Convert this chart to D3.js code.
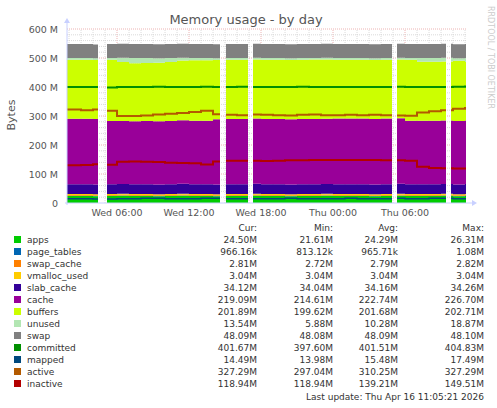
<!DOCTYPE html>
<html><head><meta charset="utf-8">
<script src="https://cdn.jsdelivr.net/npm/d3@7"></script>
<style>body{margin:0;background:#fff}text{font-family:"DejaVu Sans",sans-serif}</style>
</head><body><svg id="drawing_region"></svg>
<script>
// hourly samples Wed 02:00 .. Thu 11:00 (34 values), in MB
const hours = d3.range(34).map(i => new Date(2026, 3, 15, 2 + i));
const apps        = [24,24,23,24,25,24,24,23,24,25,24,24,23,24,24,25,24,24,23,24,24,25,24,24,24,23,24,25,24,24,24,25,23,24.5];
const pageTables  = Array(34).fill(0.97);
const swapCache   = Array(34).fill(2.8);
const vmallocUsed = Array(34).fill(3.04);
const slabCache   = [34,34,34,34,34.1,34.1,34.2,34.1,34.2,34.2,34.1,34.2,34.2,34.2,34.1,34.2,34.2,34.2,34.1,34.2,34.2,34.1,34.2,34.2,34.2,34.1,34.2,34.2,34.1,34.1,34.1,34.1,34.1,34.1];
const cache       = [226,226,226,218,217,217,218,218,218,219,219,219,225,225,225,225,225,225,225,225,225,225,226,226,226,226,226,226,219,219,219,219,219,219];
const buffers     = [203,203,203,211,203,200,200,202,203,206,208,208,204,204,204,204,204,204,204,204,205,204,203,203,203,203,203,203,210,203,203,203,208,202];
const unused      = [6,6,6,6,15,18,17,15,14,10,8,8,6,6,6,6,6,6,6,6,5,6,6,6,6,6,6,6,6,13,13,13,8,13.5];
const swap        = Array(34).fill(48.1);
const committed   = [400,400,400,398,400,400,400,401,400,400,400,401,400,400,401,400,400,400,400,401,400,400,400,400,400,400,400,401,400,400,400,400,401,401.7];
const mapped      = [15,15,14,14,15,15,16,16,15,15,15,16,16,15,15,15,15,15,16,15,15,15,15,16,15,15,15,16,15,15,16,16,15,14.5];
const active      = [322,320,322,318,300,300,302,305,308,310,314,318,306,304,303,305,304,303,302,304,305,303,303,304,303,304,303,302,301,312,316,320,325,327.3];
const inactive    = [130,131,134,132,142,143,142,141,139,138,137,133,143,146,146,146,145,146,147,147,148,148,148,148,148,148,147,147,146,125,121,120,119,118.9];
const gaps = [["04:30","05:10",0],["14:40","15:05",0],["17:00","17:20",0],["05:00","05:20",1],["09:30","09:50",1]];

const names = ["apps","page_tables","swap_cache","vmalloc_used","slab_cache","cache","buffers","unused","swap","committed","mapped","active","inactive"];
const colors = ["#00cc00","#0066b3","#ff8000","#ffcc00","#330099","#990099","#ccff00","#b3e6b3","#808080","#008f00","#00487d","#b35a00","#b30000"];
const curCol = ["24.50M","966.16k","2.81M","3.04M","34.12M","219.09M","201.89M","13.54M","48.09M","401.67M","14.49M","327.29M","118.94M"];
const minCol = ["21.61M","813.12k","2.72M","3.04M","34.04M","214.61M","199.62M","5.88M","48.08M","397.60M","13.98M","297.04M","118.94M"];
const avgCol = ["24.29M","965.71k","2.79M","3.04M","34.16M","222.74M","201.68M","10.28M","48.09M","401.51M","15.48M","310.25M","139.21M"];
const maxCol = ["26.31M","1.08M","2.82M","3.04M","34.26M","226.70M","202.71M","18.87M","48.10M","404.83M","17.49M","327.29M","149.51M"];
const stackSeries = [apps,pageTables,swapCache,vmallocUsed,slabCache,cache,buffers,unused,swap];
const lineSeries = [committed,mapped,active,inactive];

const W = 497, H = 408, m = {left:67, right:31, top:29, bottom:205};
const svg = d3.select('#drawing_region').attr('width', W).attr('height', H);
const start = new Date(2026,3,15,1,50), end = new Date(2026,3,16,11,5);
const x = d3.scaleTime().domain([start,end]).range([m.left, W - m.right]);
const y = d3.scaleLinear().domain([0,600]).range([H - m.bottom, m.top]);

// dense 5-minute steps over hourly samples
const steps = d3.timeMinute.every(5).range(start, end).concat([end]);
const gapRanges = gaps.map(g => {
  const [a,b] = [g[0],g[1]].map(s => s.split(':').map(Number));
  return [new Date(2026,3,15+g[2],a[0],a[1]), new Date(2026,3,15+g[2],b[0],b[1])];
});
const inGap = t => gapRanges.some(g => t >= g[0] && t < g[1]);
const idx = t => Math.max(0, Math.min(33, Math.floor((t - hours[0]) / 3600000)));
const rows = steps.map(t => {
  const r = {t, ok: !inGap(t)};
  stackSeries.forEach((s,k) => r[names[k]] = s[idx(t)]);
  lineSeries.forEach((s,k) => r[names[9+k]] = s[idx(t)]);
  return r;
});
const stacked = d3.stack().keys(names.slice(0,9))(rows);

// grid
const g = svg.append('g');
d3.timeHour.every(1).range(start,end).forEach(t => {
  const major = t.getHours() % 6 === 0;
  g.append('line').attr('x1',x(t)).attr('x2',x(t)).attr('y1',y(0)).attr('y2',y(600))
    .attr('stroke', major ? '#e8a0a0' : '#d0d0d0').attr('stroke-dasharray','1,1').attr('stroke-width',0.8);
});
d3.range(20,601,20).forEach(v => {
  g.append('line').attr('x1',m.left).attr('x2',W-m.right).attr('y1',y(v)).attr('y2',y(v))
    .attr('stroke', v % 100 === 0 ? '#e8a0a0' : '#d0d0d0').attr('stroke-dasharray','1,1').attr('stroke-width',0.8);
});

const area = d3.area().curve(d3.curveStepAfter).defined(d => d.data.ok)
  .x(d => x(d.data.t)).y0(d => y(d[0])).y1(d => y(d[1]));
svg.selectAll('path.a').data(stacked).enter().append('path')
  .attr('d', area).attr('fill', (d,i) => colors[i]);
lineSeries.forEach((s,k) => {
  const key = names[9+k];
  svg.append('path').datum(rows)
    .attr('d', d3.line().curve(d3.curveStepAfter).defined(d => d.ok).x(d => x(d.t)).y(d => y(d[key])))
    .attr('fill','none').attr('stroke', colors[9+k]).attr('stroke-width', k===1 ? 1.5 : 2);
});

// axes
const ax = svg.append('g').attr('font-size', 9.5).attr('fill','#555');
[0,100,200,300,400,500,600].forEach(v => {
  ax.append('text').attr('x', 58).attr('y', y(v)+3.5).attr('text-anchor','end').text(v===0 ? '0' : v + ' M');
});
d3.timeHour.every(6).range(start,end).forEach(t => {
  ax.append('text').attr('x', x(t)).attr('y', 216).attr('text-anchor','middle')
    .text(d3.timeFormat('%a %H:%M')(t));
});
svg.append('line').attr('x1',m.left-2).attr('x2',W-m.right+6).attr('y1',y(0)).attr('y2',y(0)).attr('stroke','#c8d0ff');
svg.append('line').attr('x1',m.left).attr('x2',m.left).attr('y1',y(0)+2).attr('y2',y(600)-6).attr('stroke','#c8d0ff');
svg.append('path').attr('d',`M${W-m.right+6},${y(0)-3}L${W-m.right+11},${y(0)}L${W-m.right+6},${y(0)+3}Z`).attr('fill','#c8d0ff');
svg.append('path').attr('d',`M${m.left-3},${y(600)-6}L${m.left},${y(600)-11}L${m.left+3},${y(600)-6}Z`).attr('fill','#c8d0ff');

svg.append('text').attr('x', 246).attr('y', 24).attr('text-anchor','middle').attr('font-size',13).attr('fill','#555').text('Memory usage - by day');
svg.append('text').attr('transform','translate(15,115) rotate(-90)').attr('text-anchor','middle').attr('font-size',11).attr('fill','#555').text('Bytes');
svg.append('text').attr('transform','translate(488,6) rotate(90)').attr('font-size',8).attr('fill','#ccc').text('RRDTOOL / TOBI OETIKER');

// legend
const lg = svg.append('g').attr('font-size', 9).attr('fill','#333');
[["Cur:",257],["Min:",333],["Avg:",398],["Max:",484]].forEach(h => lg.append('text').attr('x',h[1]).attr('y',231).attr('text-anchor','end').text(h[0]));
names.forEach((n,i) => {
  const yy = 243 + i*12;
  lg.append('rect').attr('x',14).attr('y',yy-7).attr('width',7).attr('height',7).attr('fill',colors[i]);
  lg.append('text').attr('x',27).attr('y',yy).text(n);
  [[curCol,257],[minCol,333],[avgCol,398],[maxCol,484]].forEach(c => lg.append('text').attr('x',c[1]).attr('y',yy).attr('text-anchor','end').text(c[0][i]));
});
lg.append('text').attr('x',484).attr('y',400).attr('text-anchor','end').text('Last update: Thu Apr 16 11:05:21 2026');
</script></body></html>
